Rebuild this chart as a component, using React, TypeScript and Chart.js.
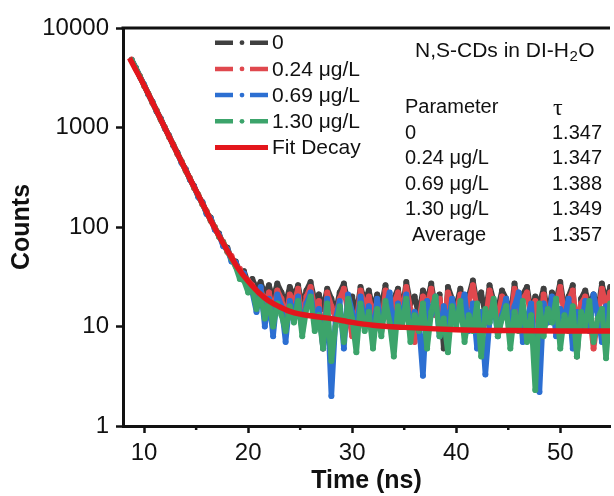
import React, { useEffect, useRef } from "react";
import { Chart, registerables } from "chart.js";

Chart.register(...registerables);

const FONT = "'Liberation Sans', Arial, Helvetica, sans-serif";

// ---- data ----
const TIME = [
  8.8, 9.2, 9.6, 10.0, 10.4, 10.8, 11.2, 11.6, 12.0, 12.4,
  12.8, 13.2, 13.6, 14.0, 14.4, 14.8, 15.2, 15.6, 16.0, 16.4,
  16.8, 17.2, 17.6, 18.0, 18.4, 18.8, 19.2, 19.6, 20.0,
  20.4, 20.8, 21.2, 21.6, 22.0, 22.4, 22.8, 23.2, 23.6, 24.0,
  24.4, 24.8, 25.2, 25.6, 26.0, 26.4, 26.8, 27.2, 27.6, 28.0,
  28.4, 28.8, 29.2, 29.6, 30.0, 30.4, 30.8, 31.2, 31.6, 32.0,
  32.4, 32.8, 33.2, 33.6, 34.0, 34.4, 34.8, 35.2, 35.6, 36.0,
  36.4, 36.8, 37.2, 37.6, 38.0, 38.4, 38.8, 39.2, 39.6, 40.0,
  40.4, 40.8, 41.2, 41.6, 42.0, 42.4, 42.8, 43.2, 43.6, 44.0,
  44.4, 44.8, 45.2, 45.6, 46.0, 46.4, 46.8, 47.2, 47.6, 48.0,
  48.4, 48.8, 49.2, 49.6, 50.0, 50.4, 50.8, 51.2, 51.6, 52.0,
  52.4, 52.8, 53.2, 53.6, 54.0, 54.4, 54.8, 55.2, 55.6, 56.0, 56.4,
];

const COUNTS_0 = [
  4750, 3980, 3230, 2680, 2160, 1810, 1450, 1230, 975, 830,
  660, 560, 445, 380, 300, 258, 204, 178, 138, 124,
  95, 86, 66, 62, 47, 45, 35, 36, 27,
  30, 24, 28, 21, 26, 19, 27, 22, 17, 25,
  20, 26, 16, 23, 28, 18, 21, 15, 24, 19,
  14, 22, 27, 17, 20, 13, 25, 18, 23, 15,
  21, 16, 26, 12, 19, 24, 14, 28, 17, 20,
  13, 23, 18, 27, 15, 21, 6, 25, 19, 16,
  24, 14, 20, 29, 17, 22, 13, 26, 18, 15,
  23, 19, 12, 27, 16, 21, 25, 14, 20, 17,
  24, 13, 22, 18, 28, 15, 20, 26, 5, 19,
  23, 16, 21, 14, 27, 18, 25, 13, 20, 22, 17,
];

const COUNTS_024 = [
  4820, 3900, 3280, 2620, 2200, 1760, 1490, 1190, 1000, 800,
  680, 540, 458, 365, 310, 246, 212, 168, 145, 115,
  100, 80, 71, 56, 51, 41, 38, 31, 29,
  26, 20, 24, 17, 22, 14, 23, 19, 12, 21,
  17, 24, 11, 20, 25, 15, 18, 6, 22, 16,
  12, 19, 24, 14, 8, 11, 23, 16, 20, 13,
  18, 9, 23, 11, 17, 22, 13, 25, 15, 7,
  11, 20, 16, 24, 13, 19, 10, 22, 17, 14,
  21, 12, 18, 26, 15, 9, 11, 23, 16, 13,
  20, 17, 10, 24, 14, 19, 22, 12, 18, 8,
  21, 11, 19, 16, 25, 13, 18, 23, 10, 17,
  20, 14, 6, 12, 24, 16, 22, 11, 18, 5, 15,
];

const COUNTS_069 = [
  4780, 3960, 3220, 2700, 2150, 1800, 1460, 1220, 985, 820,
  665, 555, 440, 378, 300, 255, 200, 176, 135, 122,
  94, 84, 64, 60, 45, 44, 33, 34, 25,
  22, 14, 25, 10, 19, 8, 21, 16, 7, 18,
  13, 20, 9, 17, 22, 11, 15, 6, 19, 2.0,
  12, 18, 6, 21, 14, 9, 20, 11, 16, 7,
  19, 10, 15, 22, 8, 17, 12, 21, 9, 14,
  11, 3.2, 18, 13, 20, 8, 16, 10, 19, 12,
  15, 21, 9, 17, 6, 14, 3.3, 11, 18, 8,
  13, 19, 10, 16, 22, 7, 12, 17, 5, 2.2,
  17, 11, 20, 8, 15, 12, 19, 6, 14, 10,
  18, 9, 21, 13, 7, 16, 11, 19, 5, 14, 12,
];

const COUNTS_130 = [
  4760, 3940, 3240, 2640, 2190, 1780, 1480, 1200, 995, 810,
  672, 548, 455, 368, 308, 250, 210, 170, 143, 116,
  99, 80, 70, 57, 48, 40, 30, 29, 22,
  24, 15, 21, 12, 18, 10, 17, 13, 9, 16,
  11, 18, 8, 15, 20, 9, 13, 6, 17, 4.5,
  10, 16, 7, 19, 12, 5.5, 17, 9, 14, 6,
  15, 8, 18, 11, 5, 16, 10, 19, 7, 13,
  9, 17, 6, 14, 20, 8, 12, 5.5, 16, 10,
  18, 7, 13, 9, 17, 5, 15, 11, 19, 8,
  12, 16, 6, 14, 9, 18, 7, 13, 2.3, 17,
  8, 15, 11, 19, 6, 13, 9, 16, 5, 14,
  10, 18, 7, 12, 15, 4.8, 17, 9, 13, 6, 11,
];

const FIT_TIME = [8.6, 9, 10, 11, 12, 13, 14, 15, 16, 17, 18, 19, 20, 21, 22, 23, 24, 25, 26, 27, 28, 30, 32, 35, 40, 45, 50, 56.5];
const FIT_COUNTS = [5000, 4150, 2650, 1620, 990, 605, 372, 230, 142, 89, 58, 39, 28.5, 22, 18, 15.8, 14.2, 13.3, 12.8, 12.4, 12.0, 11.0, 10.3, 9.8, 9.3, 9.1, 9.0, 9.0];

const SERIES_LABELS = ["0", "0.24 μg/L", "0.69 μg/L", "1.30 μg/L"];
const FIT_LABEL = "Fit Decay";
const X_TICKS = [10, 20, 30, 40, 50];
const X_MINOR_TICKS = [15, 25, 35, 45];
const Y_TICKS = [1, 10, 100, 1000, 10000];

const TABLE_TITLE = "N,S-CDs in DI-H";
const TABLE_TITLE_SUB = "2";
const TABLE_TITLE_END = "O";
const TABLE_HEAD = ["Parameter", "τ"];
const TABLE_PARAMS = ["0", "0.24 μg/L", "0.69 μg/L", "1.30 μg/L", "Average"];
const TABLE_TAU = ["1.347", "1.347", "1.388", "1.349", "1.357"];

const SERIES_COLORS = ["#404040", "#e0484e", "#2c6fd2", "#3ca46b"];
const FIT_COLOR = "#e3161c";
const INK = "#111111";

function toXY(xs: number[], ys: number[]) {
  return xs.map((x, i) => ({ x, y: ys[i] }));
}

const decorPlugin = {
  id: "decor",
  afterDraw(chart: any) {
    const { ctx, chartArea, scales } = chart;
    ctx.save();
    // top frame line
    ctx.strokeStyle = INK;
    ctx.lineWidth = 3;
    ctx.beginPath();
    ctx.moveTo(chartArea.left - 1.5, chartArea.top);
    ctx.lineTo(chartArea.right, chartArea.top);
    ctx.stroke();
    // minor x ticks
    ctx.lineWidth = 2.5;
    X_MINOR_TICKS.forEach((v) => {
      const px = scales.x.getPixelForValue(v);
      ctx.beginPath();
      ctx.moveTo(px, chartArea.bottom);
      ctx.lineTo(px, chartArea.bottom + 4);
      ctx.stroke();
    });

    // legend
    const lx0 = 215, lx1 = 268, tx = 272, ly0 = 42.7, dy = 26.2;
    ctx.textBaseline = "middle";
    ctx.textAlign = "left";
    ctx.font = `21px ${FONT}`;
    SERIES_LABELS.forEach((lab, i) => {
      const y = ly0 + i * dy;
      ctx.strokeStyle = SERIES_COLORS[i];
      ctx.fillStyle = SERIES_COLORS[i];
      ctx.lineWidth = 4.5;
      ctx.beginPath();
      ctx.moveTo(lx0, y);
      ctx.lineTo(233, y);
      ctx.moveTo(250, y);
      ctx.lineTo(lx1, y);
      ctx.stroke();
      ctx.beginPath();
      ctx.arc(242, y, 2.4, 0, Math.PI * 2);
      ctx.fill();
      ctx.fillStyle = INK;
      ctx.fillText(lab, tx, y + 1);
    });
    {
      const y = ly0 + 4 * dy;
      ctx.strokeStyle = FIT_COLOR;
      ctx.lineWidth = 5;
      ctx.beginPath();
      ctx.moveTo(lx0, y);
      ctx.lineTo(lx1, y);
      ctx.stroke();
      ctx.fillStyle = INK;
      ctx.fillText(FIT_LABEL, tx, y + 1);
    }

    // table
    ctx.fillStyle = INK;
    ctx.font = `21px ${FONT}`;
    let x = 415;
    const ty = 51;
    ctx.fillText(TABLE_TITLE, x, ty);
    x += ctx.measureText(TABLE_TITLE).width;
    ctx.font = `15px ${FONT}`;
    ctx.fillText(TABLE_TITLE_SUB, x + 0.5, ty + 6);
    x += ctx.measureText(TABLE_TITLE_SUB).width + 1;
    ctx.font = `21px ${FONT}`;
    ctx.fillText(TABLE_TITLE_END, x, ty);

    ctx.font = `20px ${FONT}`;
    const ry0 = 107.5, rdy = 25.5;
    ctx.fillText(TABLE_HEAD[0], 405, ry0);
    ctx.font = `24px 'Liberation Serif', 'DejaVu Serif', serif`;
    ctx.fillText(TABLE_HEAD[1], 553, ry0 + 1);
    ctx.font = `20px ${FONT}`;
    TABLE_PARAMS.forEach((p, i) => {
      const y = ry0 + (i + 1) * rdy;
      ctx.textAlign = "left";
      ctx.fillText(p, i === TABLE_PARAMS.length - 1 ? 412 : 405, y);
      ctx.textAlign = "right";
      ctx.fillText(TABLE_TAU[i], 602, y);
    });
    ctx.restore();
  },
};

export default function App() {
  const ref = useRef<HTMLCanvasElement | null>(null);
  useEffect(() => {
    if (!ref.current) return;
    const lineDs = (label: string, ys: number[], color: string, order: number) => ({
      label,
      data: toXY(TIME, ys),
      borderColor: color,
      backgroundColor: color,
      borderWidth: 5.5,
      borderJoinStyle: "round",
      borderCapStyle: "round",
      pointRadius: 3,
      pointBorderWidth: 0,
      pointBackgroundColor: color,
      tension: 0,
      order,
    });
    const chart = new Chart(ref.current, {
      type: "line",
      data: {
        datasets: [
          lineDs(SERIES_LABELS[0], COUNTS_0, SERIES_COLORS[0], 5),
          lineDs(SERIES_LABELS[1], COUNTS_024, SERIES_COLORS[1], 4),
          lineDs(SERIES_LABELS[2], COUNTS_069, SERIES_COLORS[2], 3),
          lineDs(SERIES_LABELS[3], COUNTS_130, SERIES_COLORS[3], 2),
          {
            label: FIT_LABEL,
            data: toXY(FIT_TIME, FIT_COUNTS),
            borderColor: FIT_COLOR,
            backgroundColor: FIT_COLOR,
            borderWidth: 5.5,
            pointRadius: 0,
            cubicInterpolationMode: "monotone",
            order: 1,
          } as any,
        ],
      },
      options: {
        responsive: false,
        animation: false,
        events: [],
        layout: { padding: { top: 28, right: 0, bottom: 0, left: 0 } },
        plugins: { legend: { display: false }, tooltip: { enabled: false } },
        scales: {
          x: {
            type: "linear",
            min: 7.97,
            max: 54.78,
            afterBuildTicks: (s: any) => {
              s.ticks = X_TICKS.map((v) => ({ value: v }));
            },
            afterFit: (s: any) => {
              s.height = 70;
            },
            grid: { drawOnChartArea: false, drawTicks: true, tickLength: 7, tickWidth: 2.5, tickColor: INK },
            border: { display: true, color: INK, width: 3 },
            ticks: {
              color: INK,
              font: { family: FONT, size: 24 },
              padding: 6,
              maxRotation: 0,
              autoSkip: false,
              callback: (v: any) => String(v),
            },
            title: {
              display: true,
              text: "Time (ns)",
              color: INK,
              font: { family: FONT, size: 25, weight: "bold" },
              padding: { top: 0, bottom: 0 },
            },
          },
          y: {
            type: "logarithmic",
            min: 1,
            max: 10000,
            afterBuildTicks: (s: any) => {
              s.ticks = Y_TICKS.map((v) => ({ value: v }));
            },
            afterFit: (s: any) => {
              s.width = 123;
            },
            grid: { drawOnChartArea: false, drawTicks: true, tickLength: 7, tickWidth: 2.5, tickColor: INK },
            border: { display: true, color: INK, width: 3 },
            ticks: {
              color: INK,
              font: { family: FONT, size: 24 },
              padding: 7,
              autoSkip: false,
              callback: (v: any) => String(v),
            },
            title: {
              display: true,
              text: "Counts",
              color: INK,
              font: { family: FONT, size: 25, weight: "bold" },
              padding: { top: 7, bottom: 0 },
            },
          },
        },
      },
      plugins: [decorPlugin],
    } as any);
    return () => chart.destroy();
  }, []);
  return (
    <div style={{ position: "absolute", left: 0, top: 0, width: 614, height: 496, background: "#fff" }}>
      <canvas ref={ref} width={614} height={496} style={{ display: "block", width: 614, height: 496 }} />
    </div>
  );
}
